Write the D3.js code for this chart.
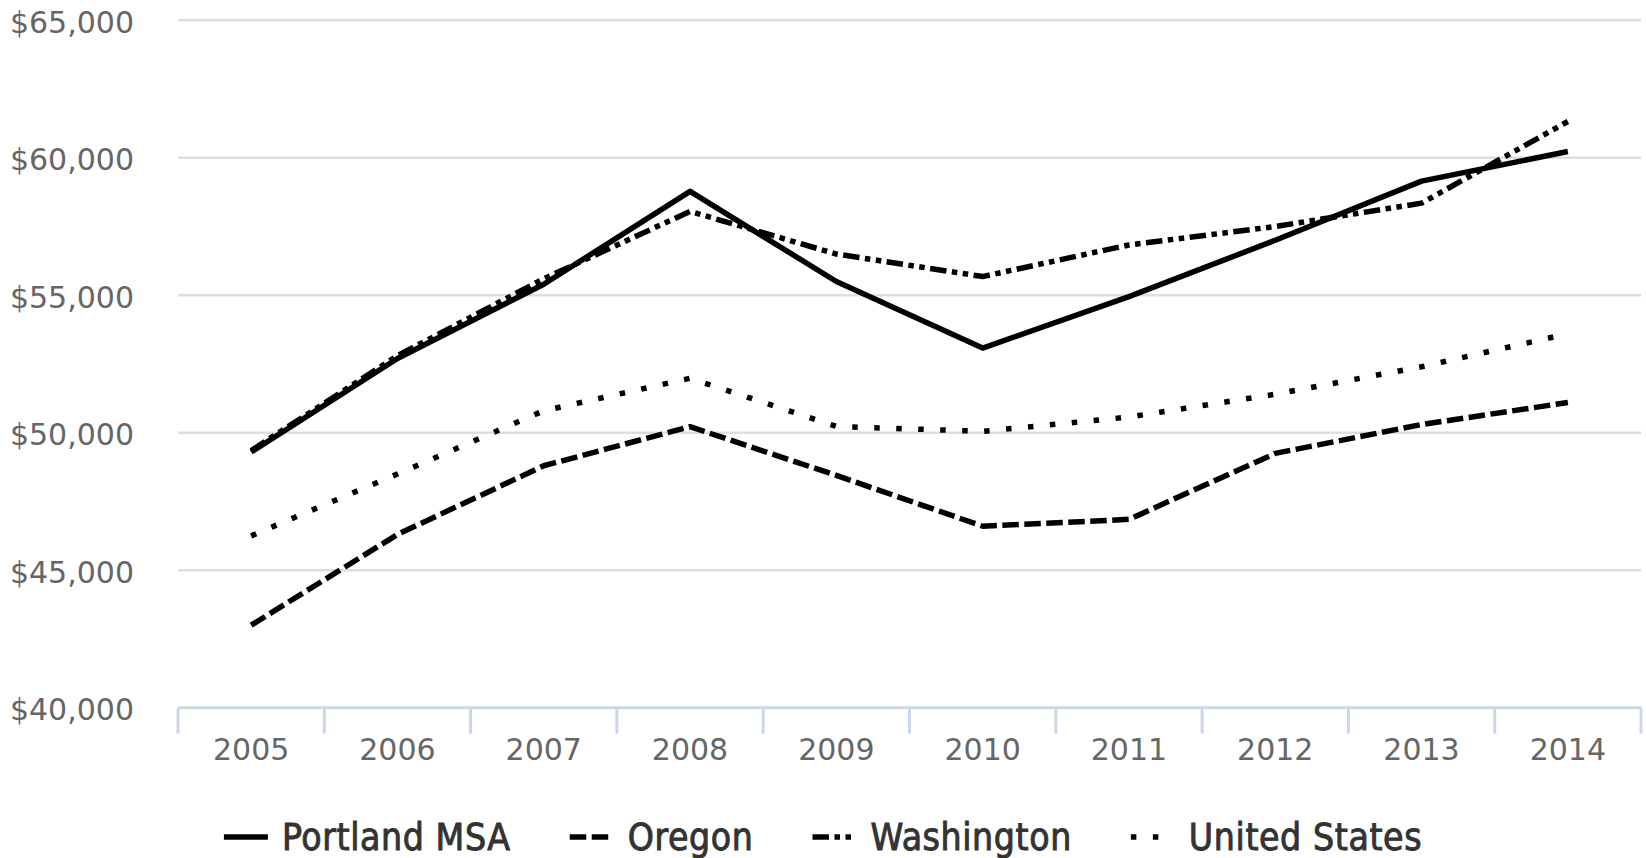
<!DOCTYPE html>
<html>
<head>
<meta charset="utf-8">
<script src="https://cdn.jsdelivr.net/npm/d3@7"></script>
<style>
  html, body { margin: 0; padding: 0; background: #fff; }
  svg { display: block; }
  .grid line { stroke: #dedede; stroke-width: 2.5; }
  .ylab text, .xlab text { font-family: "DejaVu Sans", sans-serif; font-size: 30px; fill: #666; }
  .legend text { font-family: "DejaVu Sans Condensed", "DejaVu Sans", sans-serif; font-size: 37px; letter-spacing: 0.6px; font-weight: normal; fill: #333; stroke: #333; stroke-width: 0.9px; }
</style>
</head>
<body>
<svg width="1646" height="858"></svg>
<script>
const years = ["2005","2006","2007","2008","2009","2010","2011","2012","2013","2014"];
const yTicks = [40000, 45000, 50000, 55000, 60000, 65000];

const portland   = [49300, 52700, 55400, 58780, 55500, 53080, 54950, 57000, 59150, 60230];
const oregon     = [43000, 46300, 48800, 50220, 48450, 46600, 46850, 49250, 50300, 51100];
const washington = [49350, 52800, 55600, 58050, 56500, 55680, 56830, 57500, 58350, 61320];
const usa        = [46250, 48500, 50800, 51980, 50230, 50050, 50570, 51400, 52400, 53600];

const seriesNames = ["Portland MSA", "Oregon", "Washington", "United States"];
const seriesData = [portland, oregon, washington, usa];

const svg = d3.select("svg"),
    width = +svg.attr("width"),
    height = +svg.attr("height");

const lw = 5.5;
// highcharts-ish dash patterns, multiplied by line width
const dashes = [null, [3,1], [3,1,1,1,1,1], [1,3]];
function dashArr(i) {
  return dashes[i] ? dashes[i].map(v => v * lw).join(",") : null;
}

const plot = {left: 178, right: 1641, top: 20.3, bottom: 707.7};

const x = d3.scaleBand()
    .domain(years)
    .range([plot.left, plot.right]);

const y = d3.scaleLinear()
    .domain([40000, 65000])
    .range([plot.bottom, plot.top]);

// grid
svg.append("g")
    .attr("class", "grid")
    .selectAll("line")
    .data(yTicks.filter(d => d > 40000))
    .enter().append("line")
    .attr("x1", plot.left)
    .attr("x2", plot.right)
    .attr("y1", d => y(d))
    .attr("y2", d => y(d));

// y labels
svg.append("g")
    .attr("class", "ylab")
    .selectAll("text")
    .data(yTicks)
    .enter().append("text")
    .attr("x", 134)
    .attr("y", d => y(d) + 12.5)
    .attr("text-anchor", "end")
    .text(d => "$" + d3.format(",")(d));

// x axis
const xAxis = d3.axisBottom(x)
    .tickSize(0)
    .tickPadding(0)
    .tickFormat("");
const xa = svg.append("g")
    .attr("transform", `translate(0,${plot.bottom})`)
    .call(xAxis);
xa.select(".domain")
    .attr("d", `M${plot.left},0H${plot.right}`)
    .attr("stroke", "#ccd6eb")
    .attr("stroke-width", 3);

// tick marks at the band edges
const edges = years.map(d => x(d)).concat([plot.right]);
xa.selectAll(".edge")
    .data(edges)
    .enter().append("line")
    .attr("class", "edge")
    .attr("x1", d => d).attr("x2", d => d)
    .attr("y1", 0).attr("y2", 26)
    .attr("stroke", "#ccd6eb")
    .attr("stroke-width", 3);

svg.append("g")
    .attr("class", "xlab")
    .selectAll("text")
    .data(years)
    .enter().append("text")
    .attr("x", d => x(d) + x.bandwidth() / 2)
    .attr("y", 760)
    .attr("text-anchor", "middle")
    .text(d => d);

// lines
const line = d3.line()
    .x((d, i) => x(years[i]) + x.bandwidth() / 2)
    .y(d => y(d));

svg.append("g")
    .attr("class", "lines")
    .selectAll("path")
    .data(seriesData)
    .enter().append("path")
    .attr("d", d => line(d))
    .attr("fill", "none")
    .attr("stroke", "#000")
    .attr("stroke-width", lw)
    .attr("stroke-linejoin", "round")
    .attr("stroke-dasharray", (d, i) => dashArr(i));

// legend
const symW = 44, symPad = 14, itemGap = 59;
const legend = svg.append("g").attr("class", "legend");
let cursor = 0;
seriesNames.forEach((name, i) => {
  const g = legend.append("g").attr("transform", `translate(${cursor},0)`);
  g.append("line")
    .attr("x1", 0).attr("x2", symW)
    .attr("y1", 0).attr("y2", 0)
    .attr("stroke", "#000")
    .attr("stroke-width", lw)
    .attr("stroke-dasharray", dashArr(i));
  const t = g.append("text")
    .attr("x", symW + symPad)
    .attr("y", 12.5)
    .text(name);
  cursor += symW + symPad + t.node().getComputedTextLength() + itemGap;
});
cursor -= itemGap;
legend.attr("transform", `translate(${(width - cursor) / 2},837)`);
</script>
</body>
</html>
